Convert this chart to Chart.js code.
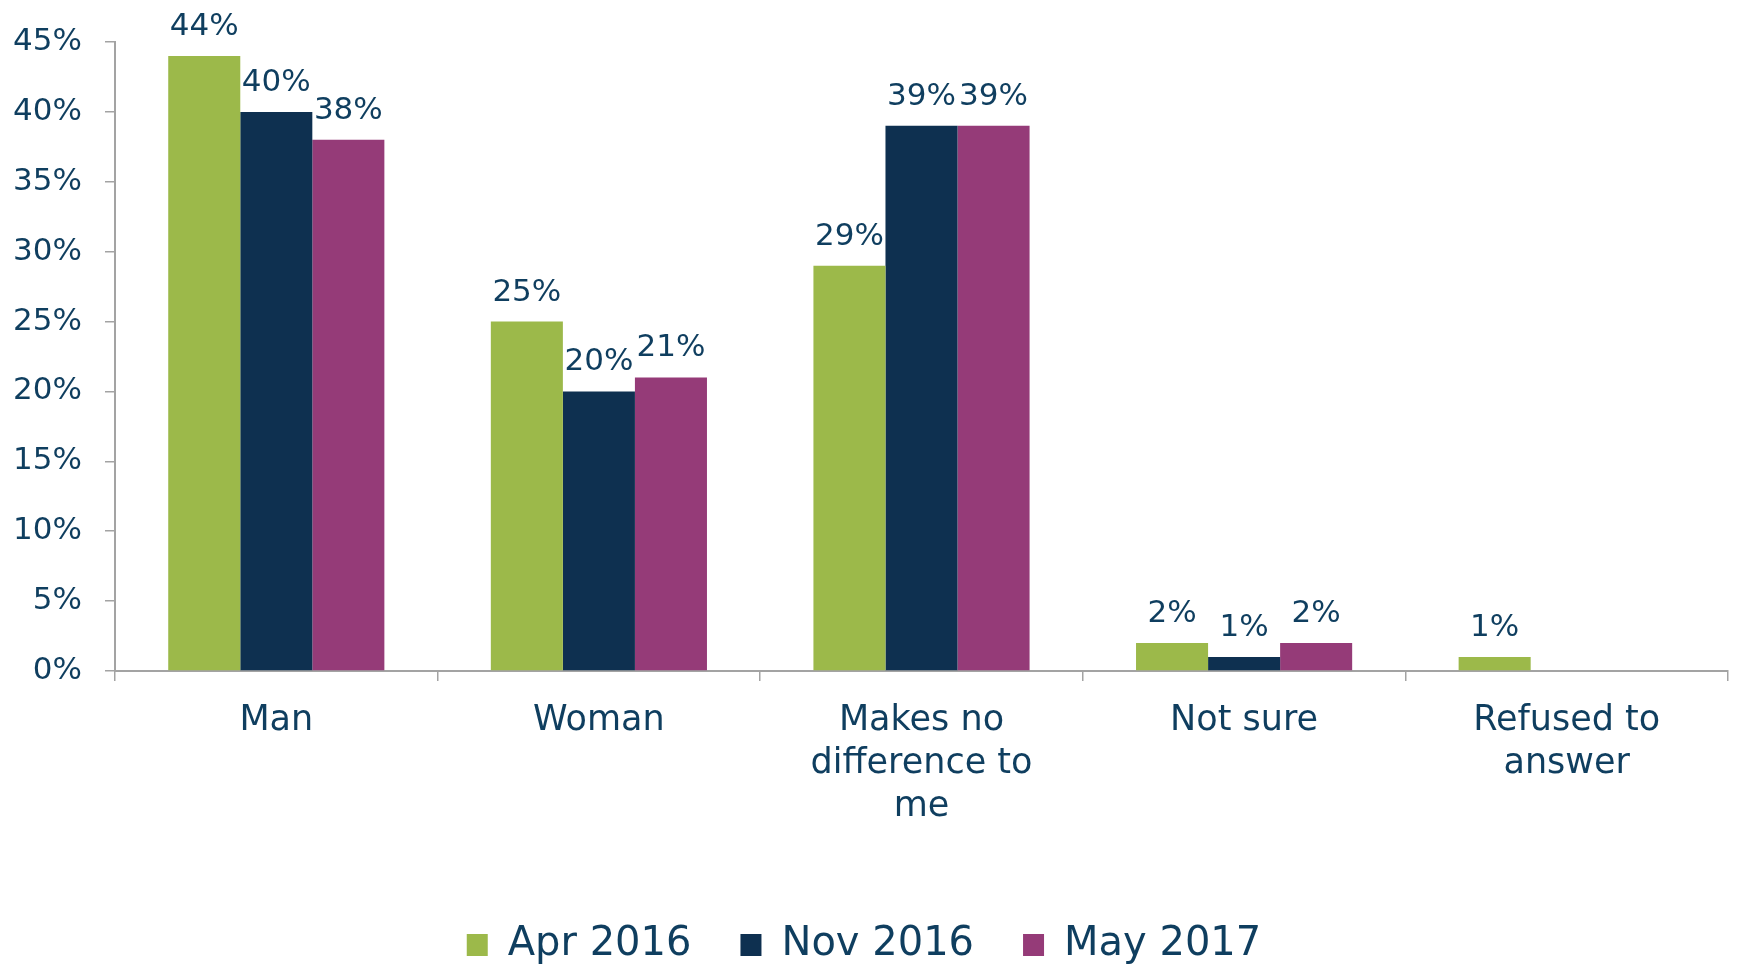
<!DOCTYPE html>
<html>
<head>
<meta charset="utf-8">
<script src="https://cdn.jsdelivr.net/npm/chart.js@4.4.0/dist/chart.umd.min.js"></script>
<style>
html,body{margin:0;padding:0;background:#ffffff;}
#wrap{width:1737px;height:966px;position:relative;}
</style>
</head>
<body>
<div id="wrap"><canvas id="c"></canvas></div>
<script>
// ---- data ----
const categories = ["Man", "Woman", ["Makes no", "difference to", "me"], "Not sure", ["Refused to", "answer"]];
const seriesNames = ["Apr 2016", "Nov 2016", "May 2017"];
const apr2016 = [44, 25, 29, 2, 1];
const nov2016 = [40, 20, 39, 1, null];
const may2017 = [38, 21, 39, 2, null];
const yTickValues = [0, 5, 10, 15, 20, 25, 30, 35, 40, 45];

// ---- styles ----
const TEXT = '#0f3e5f';
const AXIS = '#a3a3a3';
const COLORS = ['#9cb94a', '#0e3050', '#953b78'];
const FONT = '"DejaVu Sans", Verdana, sans-serif';

const valueLabels = {
  id: 'valueLabels',
  afterDatasetsDraw(chart) {
    const ctx = chart.ctx;
    ctx.save();
    ctx.font = '31px ' + FONT;
    ctx.fillStyle = TEXT;
    ctx.textAlign = 'center';
    ctx.textBaseline = 'alphabetic';
    chart.data.datasets.forEach((ds, di) => {
      const meta = chart.getDatasetMeta(di);
      meta.data.forEach((bar, i) => {
        const v = ds.data[i];
        if (v === null || v === undefined) return;
        ctx.fillText(v + '%', bar.x, bar.y - 21);
      });
    });
    ctx.restore();
  }
};

const seriesData = [apr2016, nov2016, may2017];

new Chart(document.getElementById('c'), {
  type: 'bar',
  data: {
    labels: categories,
    datasets: seriesNames.map((name, i) => ({
      label: name,
      data: seriesData[i],
      backgroundColor: COLORS[i],
      borderWidth: 0,
      categoryPercentage: 0.67,
      barPercentage: 1.0
    }))
  },
  options: {
    responsive: true,
    maintainAspectRatio: false,
    animation: false,
    layout: { padding: { top: 42, right: 9, bottom: -9, left: 0 } },
    plugins: {
      tooltip: { enabled: false },
      legend: {
        position: 'bottom',
        labels: {
          color: TEXT,
          font: { family: FONT, size: 40 },
          boxWidth: 21,
          boxHeight: 22,
          padding: 49
        }
      }
    },
    scales: {
      x: {
        afterFit: s => { s.height = 205; },
        grid: { display: true, drawOnChartArea: false, drawTicks: true, tickLength: 10, color: AXIS, lineWidth: 1.5, offset: true },
        border: { display: true, color: AXIS, width: 2 },
        ticks: { color: TEXT, padding: 18, font: { family: FONT, size: 35, lineHeight: 1.23 }, maxRotation: 0, autoSkip: false }
      },
      y: {
        min: 0,
        max: 45,
        afterFit: s => { s.width = 115; },
        afterBuildTicks: s => { s.ticks = yTickValues.map(v => ({ value: v })); },
        grid: { display: true, drawOnChartArea: false, drawTicks: true, tickLength: 10, color: AXIS, lineWidth: 1.5 },
        border: { display: true, color: AXIS, width: 2 },
        ticks: { color: TEXT, padding: 23, font: { family: FONT, size: 31 }, callback: v => v + '%' }
      }
    }
  },
  plugins: [valueLabels]
});
</script>
</body>
</html>
